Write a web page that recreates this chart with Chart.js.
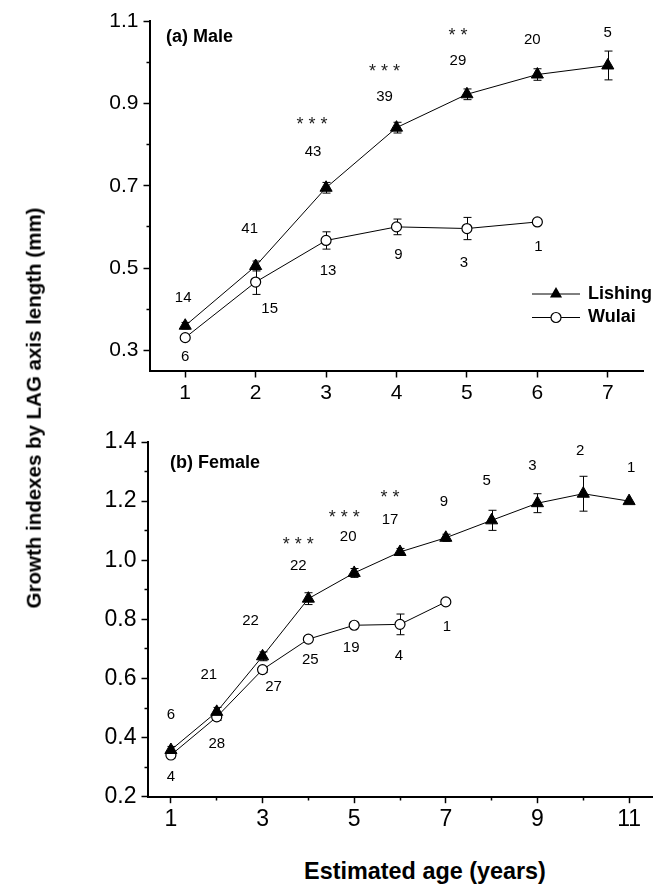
<!DOCTYPE html>
<html>
<head>
<meta charset="utf-8">
<script src="https://cdn.jsdelivr.net/npm/chart.js@4.4.0/dist/chart.umd.min.js"></script>
<style>
  body { margin: 0; width: 666px; height: 885px; background: #fff; position: relative; overflow: hidden;
         font-family: "Liberation Sans", Arial, sans-serif; }
  canvas { position: absolute; left: 0; }
  #topChart { top: 0; }
  #bottomChart { top: 410px; }
  .axis-title { position: absolute; font-weight: bold; color: #000; white-space: nowrap; line-height: 1; }
  #yTitle { left: 34px; top: 408px; font-size: 20.5px; transform: translate(-50%, -50%) rotate(-90deg); }
  #xTitle { left: 425px; top: 860px; font-size: 23.4px; transform: translateX(-50%); }
</style>
</head>
<body>
<canvas id="topChart" width="666" height="410"></canvas>
<canvas id="bottomChart" width="666" height="440"></canvas>
<div class="axis-title" id="yTitle">Growth indexes by LAG axis length (mm)</div>
<div class="axis-title" id="xTitle">Estimated age (years)</div>
<script>
// ---- (a) Male ----
const maleAges = [1, 2, 3, 4, 5, 6, 7];
const maleLishing = [0.36, 0.505, 0.695, 0.841, 0.922, 0.970, 0.992];
const maleLishingErr = [0.008, 0.012, 0.013, 0.013, 0.013, 0.014, 0.035];
const maleLishingN = [14, 41, 43, 39, 29, 20, 5];
const maleWulai = [0.331, 0.466, 0.567, 0.600, 0.596, 0.612];
const maleWulaiErr = [0.006, 0.030, 0.021, 0.019, 0.027, 0];
const maleWulaiN = [6, 15, 13, 9, 3, 1];
const maleSignif = ['', '', '***', '***', '**', '', ''];

// ---- (b) Female ----
const femaleAges = [1, 2, 3, 4, 5, 6, 7, 8, 9, 10, 11];
const femaleLishing = [0.358, 0.487, 0.675, 0.870, 0.957, 1.028, 1.076, 1.135, 1.193, 1.225, 1.200];
const femaleLishingErr = [0.012, 0.015, 0.015, 0.02, 0.015, 0.012, 0.012, 0.034, 0.032, 0.059, 0];
const femaleLishingN = [6, 21, 22, 22, 20, 17, 9, 5, 3, 2, 1];
const femaleWulai = [0.341, 0.470, 0.630, 0.733, 0.780, 0.783, 0.859];
const femaleWulaiErr = [0.01, 0.012, 0.01, 0.01, 0.008, 0.035, 0];
const femaleWulaiN = [4, 28, 27, 25, 19, 4, 1];
const femaleSignif = ['', '', '', '***', '***', '**', '', '', '', '', ''];

// ---- ticks ----
const maleXTicks = [1, 2, 3, 4, 5, 6, 7];
const maleXLabels = [1, 2, 3, 4, 5, 6, 7];
const maleYTicks = [0.3, 0.4, 0.5, 0.6, 0.7, 0.8, 0.9, 1.0, 1.1];
const maleYLabels = [0.3, 0.5, 0.7, 0.9, 1.1];
const femaleXTicks = [1, 2, 3, 4, 5, 6, 7, 8, 9, 10, 11];
const femaleXLabels = [1, 3, 5, 7, 9, 11];
const femaleYTicks = [0.2, 0.3, 0.4, 0.5, 0.6, 0.7, 0.8, 0.9, 1.0, 1.1, 1.2, 1.3, 1.4];
const femaleYLabels = [0.2, 0.4, 0.6, 0.8, 1.0, 1.2, 1.4];

const FONT = '"Liberation Sans", Arial, sans-serif';
Chart.defaults.font.family = FONT;
Chart.defaults.color = '#000';

function toPoints(xs, ys) {
    return ys.map((v, i) => ({ x: xs[i], y: v }));
}

// error bars under the markers, n-labels / stars / legend on top
const annotatePlugin = {
    id: 'annotate',
    beforeDatasetsDraw(chart) {
        const ctx = chart.ctx;
        const xs = chart.scales.x, ys = chart.scales.y;
        ctx.save();
        ctx.strokeStyle = '#000';
        ctx.lineWidth = 1;
        chart.data.datasets.forEach(ds => {
            ds.data.forEach((p, i) => {
                const e = ds.errors[i];
                if (!e) return;
                const x = Math.round(xs.getPixelForValue(p.x)) + 0.5;
                const y1 = ys.getPixelForValue(p.y - e);
                const y2 = ys.getPixelForValue(p.y + e);
                ctx.beginPath();
                ctx.moveTo(x, y1); ctx.lineTo(x, y2);
                ctx.moveTo(x - 4, y1); ctx.lineTo(x + 4, y1);
                ctx.moveTo(x - 4, y2); ctx.lineTo(x + 4, y2);
                ctx.stroke();
            });
        });
        ctx.restore();
    },
    afterDatasetsDraw(chart, args, opts) {
        const ctx = chart.ctx;
        const xs = chart.scales.x, ys = chart.scales.y;
        ctx.save();
        ctx.textAlign = 'center';
        ctx.textBaseline = 'middle';
        chart.data.datasets.forEach(ds => {
            ds.data.forEach((p, i) => {
                const px = xs.getPixelForValue(p.x), py = ys.getPixelForValue(p.y);
                const off = ds.nOffsets[i];
                ctx.fillStyle = '#000';
                ctx.font = '15px ' + FONT;
                ctx.fillText(String(ds.n[i]), px + off[0], py + off[1]);
                if (ds.signif && ds.signif[i]) {
                    const so = ds.starOffsets[i];
                    ctx.fillStyle = '#222';
                    ctx.font = '18px ' + FONT;
                    ctx.fillText(ds.signif[i].split('').join(' '), px + so[0], py + so[1] + 4);
                }
            });
        });

        // panel label
        ctx.fillStyle = '#000';
        ctx.textAlign = 'left';
        ctx.font = 'bold 18px ' + FONT;
        ctx.fillText(opts.panel.text, opts.panel.x, opts.panel.y);

        // legend
        if (opts.legend) {
            const lg = opts.legend;
            chart.data.datasets.forEach((ds, k) => {
                const y = lg.y + k * lg.gap;
                ctx.strokeStyle = '#000';
                ctx.lineWidth = 1;
                ctx.beginPath();
                ctx.moveTo(lg.x, y); ctx.lineTo(lg.x + lg.len, y);
                ctx.stroke();
                const cx = lg.x + lg.len / 2;
                ctx.beginPath();
                if (ds.pointStyle === 'triangle') {
                    const r = ds.pointRadius;
                    ctx.moveTo(cx, y - r * 0.75 - 1.75);
                    ctx.lineTo(cx + r * 0.866, y + r * 0.75 - 1.75);
                    ctx.lineTo(cx - r * 0.866, y + r * 0.75 - 1.75);
                    ctx.closePath();
                    ctx.fillStyle = '#000';
                    ctx.fill();
                } else {
                    ctx.arc(cx, y, ds.pointRadius, 0, Math.PI * 2);
                    ctx.fillStyle = '#fff';
                    ctx.fill();
                    ctx.lineWidth = ds.pointBorderWidth;
                    ctx.stroke();
                }
                ctx.fillStyle = '#000';
                ctx.font = 'bold 18px ' + FONT;
                ctx.textBaseline = 'middle';
                ctx.fillText(ds.label, lg.x + lg.len + 8, y);
            });
        }
        ctx.restore();
    }
};

function xAxis(min, max, tickVals, labelVals, height, fontSize) {
    return {
        type: 'linear', min: min, max: max,
        afterBuildTicks: s => { s.ticks = tickVals.map(v => ({ value: v })); },
        afterFit: s => { s.height = height; },
        ticks: {
            autoSkip: false, maxRotation: 0, padding: 3,
            font: { size: fontSize },
            callback: v => labelVals.includes(v) ? String(v) : ''
        },
        grid: {
            drawOnChartArea: false, tickLength: 6.5, tickWidth: 1.5, tickColor: '#000',
            tickBorderDash: c => labelVals.includes(c.tick && c.tick.value) ? [] : [2.5, 20]
        },
        border: { color: '#000', width: 2 }
    };
}

function yAxis(min, max, tickVals, labelVals, width, fontSize) {
    return {
        type: 'linear', min: min, max: max,
        afterBuildTicks: s => { s.ticks = tickVals.map(v => ({ value: v })); },
        afterFit: s => { s.width = width; },
        ticks: {
            autoSkip: false, padding: 5,
            font: { size: fontSize },
            callback: v => labelVals.includes(v) ? v.toFixed(1) : ''
        },
        grid: {
            drawOnChartArea: false, tickLength: 6.5, tickWidth: 1.5, tickColor: '#000',
            tickBorderDash: c => labelVals.includes(c.tick && c.tick.value) ? [] : [0, 3, 3, 20]
        },
        border: { color: '#000', width: 2 }
    };
}

function lishingSet(xs, ys, err, n, signif, nOffsets, starOffsets) {
    return {
        label: 'Lishing', data: toPoints(xs, ys), errors: err, n: n, signif: signif,
        nOffsets: nOffsets, starOffsets: starOffsets,
        borderColor: '#000', borderWidth: 1, tension: 0,
        pointStyle: 'triangle', pointRadius: 7, pointBackgroundColor: '#000',
        pointBorderColor: '#000', pointBorderWidth: 1
    };
}

function wulaiSet(xs, ys, err, n, nOffsets) {
    return {
        label: 'Wulai', data: toPoints(xs, ys), errors: err, n: n,
        nOffsets: nOffsets,
        borderColor: '#000', borderWidth: 1, tension: 0,
        pointStyle: 'circle', pointRadius: 5, pointBackgroundColor: '#fff',
        pointBorderColor: '#000', pointBorderWidth: 1.2
    };
}

// (a) Male panel
new Chart(document.getElementById('topChart'), {
    type: 'line',
    data: {
        datasets: [
            lishingSet(maleAges, maleLishing, maleLishingErr, maleLishingN, maleSignif,
                [[-2, -28], [-6, -37], [-13, -36], [-12, -31], [-9, -33], [-5, -35], [0, -33]],
                [null, null, [-14, -67], [-12, -60], [-9, -62], null, null]),
            wulaiSet(maleAges, maleWulai, maleWulaiErr, maleWulaiN,
                [[0, 19], [14, 27], [2, 30], [2, 28], [-3, 34], [1, 25]])
        ]
    },
    options: {
        responsive: false,
        animation: false,
        layout: { autoPadding: false, padding: { left: 0, right: 23, top: 21, bottom: 0 } },
        plugins: {
            legend: { display: false },
            tooltip: { enabled: false },
            annotate: {
                panel: { text: '(a) Male', x: 166, y: 37 },
                legend: { x: 532, y: 294, gap: 23.5, len: 48 }
            }
        },
        scales: {
            x: xAxis(0.5, 7.5, maleXTicks, maleXLabels, 39, 21),
            y: yAxis(0.25, 1.1, maleYTicks, maleYLabels, 150, 21)
        }
    },
    plugins: [annotatePlugin]
});

// (b) Female panel
new Chart(document.getElementById('bottomChart'), {
    type: 'line',
    data: {
        datasets: [
            lishingSet(femaleAges, femaleLishing, femaleLishingErr, femaleLishingN, femaleSignif,
                [[0, -35], [-8, -37], [-12, -35], [-10, -33], [-6, -36], [-10, -32], [-2, -36], [-5, -39], [-5, -37], [-3, -43], [2, -33]],
                [null, null, null, [-10, -58], [-10, -59], [-10, -58], null, null, null, null, null]),
            wulaiSet(femaleAges, femaleWulai, femaleWulaiErr, femaleWulaiN,
                [[0, 22], [0, 27], [11, 17], [2, 21], [-3, 23], [-1, 31], [1, 25]])
        ]
    },
    options: {
        responsive: false,
        animation: false,
        layout: { autoPadding: false, padding: { left: 0, right: 14, top: 32, bottom: 0 } },
        plugins: {
            legend: { display: false },
            tooltip: { enabled: false },
            annotate: {
                panel: { text: '(b) Female', x: 170, y: 53 }
            }
        },
        scales: {
            x: xAxis(0.5, 11.5, femaleXTicks, femaleXLabels, 53.3, 23),
            y: yAxis(0.2, 1.4, femaleYTicks, femaleYLabels, 148, 23)
        }
    },
    plugins: [annotatePlugin]
});
</script>
</body>
</html>
